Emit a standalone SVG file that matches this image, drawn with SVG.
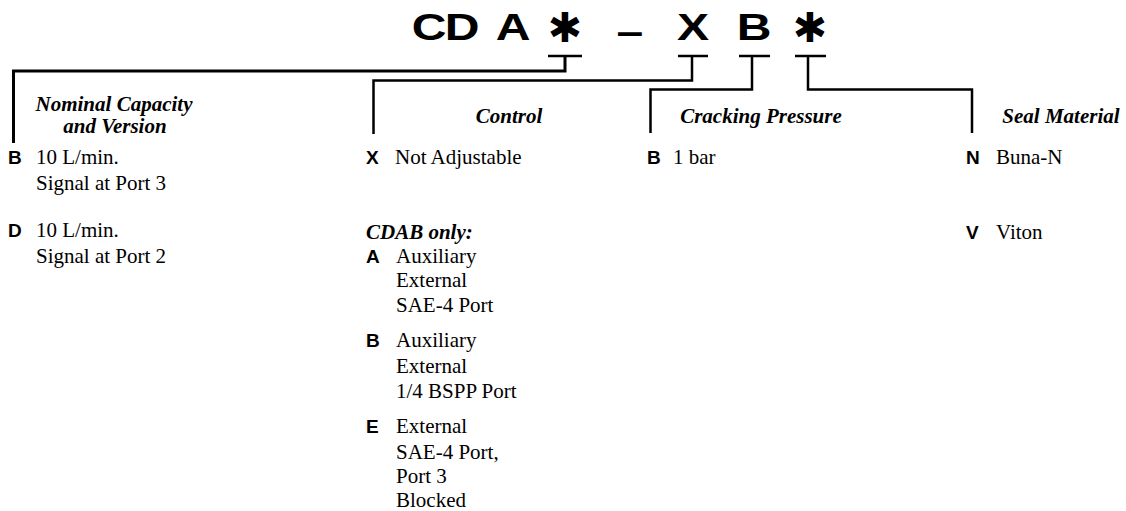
<svg xmlns="http://www.w3.org/2000/svg" width="1126" height="511" viewBox="0 0 1126 511">
  <style>
    .title { font-family: "Liberation Sans", Arial, sans-serif; font-weight: bold; font-size: 37px; fill: #000; }
    .star { font-family: "DejaVu Sans", sans-serif; font-weight: bold; font-size: 41px; fill: #000; }
    .head { font-family: "Liberation Serif", "Times New Roman", serif; font-weight: bold; font-style: italic; font-size: 21px; fill: #000; }
    .code { font-family: "Liberation Sans", Arial, sans-serif; font-weight: bold; font-size: 19px; fill: #000; }
    .txt { font-family: "Liberation Serif", "Times New Roman", serif; font-size: 21px; fill: #000; }
    .ln { fill: none; stroke: #000; stroke-width: 2.5; stroke-linecap: butt; stroke-linejoin: miter; }
    .ul { stroke: #000; stroke-width: 2.5; }
  </style>

  <!-- model code -->
  <g id="model-code">
    <text class="title" text-anchor="middle" transform="translate(429,40) scale(1.3,1)">C</text>
    <text class="title" text-anchor="middle" transform="translate(462,40) scale(1.3,1)">D</text>
    <text class="title" text-anchor="middle" transform="translate(513,40) scale(1.3,1)">A</text>
    <text class="star" text-anchor="middle" x="565" y="42">✱</text>
    <text class="title" text-anchor="middle" transform="translate(630,44) scale(1.3,1)">–</text>
    <text class="title" text-anchor="middle" transform="translate(693,40) scale(1.3,1)">X</text>
    <text class="title" text-anchor="middle" transform="translate(754,40) scale(1.3,1)">B</text>
    <text class="star" text-anchor="middle" x="810" y="42">✱</text>
    <line class="ul" x1="548" y1="56" x2="582" y2="56"/>
    <line class="ul" x1="678" y1="56" x2="708" y2="56"/>
    <line class="ul" x1="739" y1="56" x2="770" y2="56"/>
    <line class="ul" x1="795" y1="56" x2="826" y2="56"/>
  </g>

  <!-- connectors from code positions to columns -->
  <g id="connectors">
    <polyline class="ln" style="stroke-width:3" points="565,56 565,71 13.5,71 13.5,143"/>
    <polyline class="ln" points="692,56 692,80.5 373.5,80.5 373.5,134"/>
    <polyline class="ln" points="752,56 752,89.5 650.5,89.5 650.5,133"/>
    <polyline class="ln" points="808,56 808,89.5 972,89.5 972,133"/>
  </g>

  <!-- nominal capacity and version -->
  <g id="col-capacity">
    <text class="head" text-anchor="middle" x="114" y="111">Nominal Capacity</text>
    <text class="head" text-anchor="middle" x="115" y="133">and Version</text>
    <text class="code" x="8" y="164">B</text>
    <text class="txt" x="36" y="164">10 L/min.</text>
    <text class="txt" x="36" y="190">Signal at Port 3</text>
    <text class="code" x="8" y="237">D</text>
    <text class="txt" x="36" y="237">10 L/min.</text>
    <text class="txt" x="36" y="263">Signal at Port 2</text>
  </g>

  <!-- control -->
  <g id="col-control">
    <text class="head" text-anchor="middle" x="509" y="123">Control</text>
    <text class="code" x="366" y="164">X</text>
    <text class="txt" x="395" y="164">Not Adjustable</text>
    <text class="head" x="366" y="239">CDAB only:</text>
    <text class="code" x="366" y="263">A</text>
    <text class="txt" x="396" y="263">Auxiliary</text>
    <text class="txt" x="396" y="287">External</text>
    <text class="txt" x="396" y="312">SAE-4 Port</text>
    <text class="code" x="366" y="347">B</text>
    <text class="txt" x="396" y="347">Auxiliary</text>
    <text class="txt" x="396" y="373">External</text>
    <text class="txt" x="396" y="398">1/4 BSPP Port</text>
    <text class="code" x="366" y="433">E</text>
    <text class="txt" x="396" y="433">External</text>
    <text class="txt" x="396" y="459">SAE-4 Port,</text>
    <text class="txt" x="396" y="483">Port 3</text>
    <text class="txt" x="396" y="507">Blocked</text>
  </g>

  <!-- cracking pressure -->
  <g id="col-pressure">
    <text class="head" text-anchor="middle" x="761" y="123">Cracking Pressure</text>
    <text class="code" x="647" y="164">B</text>
    <text class="txt" x="673" y="164">1 bar</text>
  </g>

  <!-- seal material -->
  <g id="col-seal">
    <text class="head" text-anchor="middle" x="1061" y="123">Seal Material</text>
    <text class="code" x="966" y="164">N</text>
    <text class="txt" x="996" y="164">Buna-N</text>
    <text class="code" x="966" y="239">V</text>
    <text class="txt" x="996" y="239">Viton</text>
  </g>
</svg>
